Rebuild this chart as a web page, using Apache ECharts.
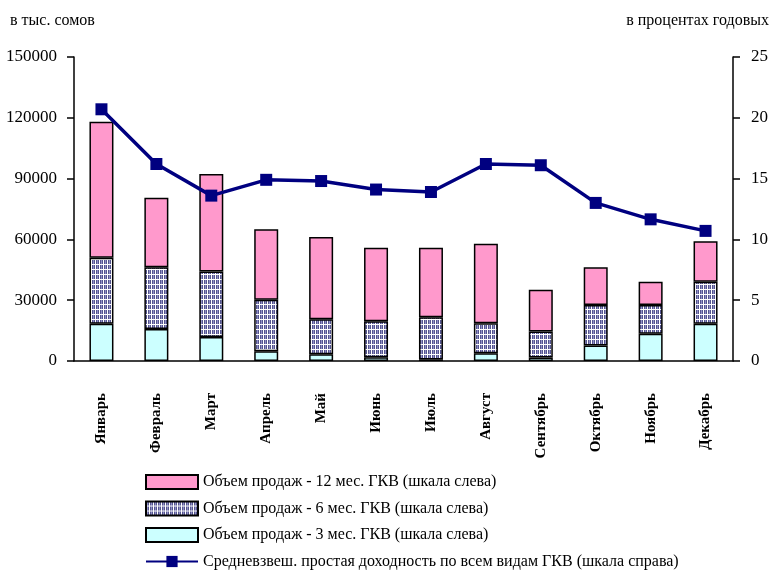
<!DOCTYPE html>
<html>
<head>
<meta charset="utf-8">
<script src="https://cdn.jsdelivr.net/npm/echarts@6/dist/echarts.min.js"></script>
<style>
  html, body { margin: 0; padding: 0; background: #fff; }
  #chart { width: 771px; height: 571px; }
</style>
</head>
<body>
<div id="chart"></div>
<script>
// месяцы
const months = ['Январь', 'Февраль', 'Март', 'Апрель', 'Май', 'Июнь', 'Июль', 'Август', 'Сентябрь', 'Октябрь', 'Ноябрь', 'Декабрь']
// объем продаж, тыс. сомов
const sales3 = [18400, 15800, 11800, 4800, 3300, 1800, 800, 3800, 1700, 7700, 13500, 18400]
const sales6 = [32600, 30400, 32400, 25400, 17300, 17800, 20800, 14800, 12900, 19900, 14100, 20700]
const sales12 = [67000, 34300, 48100, 34800, 40600, 36300, 34300, 39300, 20500, 18600, 11500, 20000]
// доходность, % годовых
const yieldAvg = [20.7, 16.2, 13.6, 14.9, 14.8, 14.1, 13.9, 16.2, 16.1, 13.0, 11.65, 10.7]

const names = [
    'Объем продаж - 12 мес. ГКВ (шкала слева)',
    'Объем продаж - 6 мес. ГКВ (шкала слева)',
    'Объем продаж - 3 мес. ГКВ (шкала слева)',
    'Средневзвеш. простая доходность по всем видам ГКВ (шкала справа)'
]

const font = 'Liberation Serif'

// штриховка для 6 мес.
const pat = document.createElement('canvas')
pat.width = 4
pat.height = 5
const ctx = pat.getContext('2d')
ctx.fillStyle = '#ffffff'
ctx.fillRect(0, 0, 4, 5)
ctx.fillStyle = '#55558f'
ctx.fillRect(0, 0, 1, 4)
ctx.fillRect(2, 0, 1, 4)
ctx.fillStyle = '#9090c4'
ctx.fillRect(1, 0, 1, 4)

const chart = echarts.init(document.getElementById('chart'))

const barBorder = { borderColor: '#000', borderWidth: 1.5 }
const plain = v => String(v)

chart.setOption({
    animation: false,
    backgroundColor: '#fff',
    textStyle: { fontFamily: font },
    graphic: [
        {
            type: 'text', left: 10, top: 13,
            style: { text: 'в тыс. сомов', font: '16px ' + font, fill: '#000' }
        },
        {
            type: 'text', right: 2, top: 13,
            style: { text: 'в процентах годовых', font: '16px ' + font, fill: '#000' }
        }
    ],
    grid: { left: 74, right: 35, top: 57, bottom: 210 },
    legend: {
        orient: 'vertical',
        left: 145,
        top: 474,
        padding: 0,
        itemWidth: 52,
        itemHeight: 14,
        itemGap: 10.5,
        data: [
            { name: names[0], icon: 'rect' },
            { name: names[1], icon: 'rect' },
            { name: names[2], icon: 'rect' },
            { name: names[3] }
        ],
        textStyle: { fontFamily: font, fontSize: 16, color: '#000' }
    },
    xAxis: {
        type: 'category',
        data: months,
        axisLine: { lineStyle: { color: '#000', width: 1.5 } },
        axisTick: { lineStyle: { color: '#000', width: 1.5 }, length: 6 },
        axisLabel: {
            rotate: 90,
            margin: 32,
            color: '#000',
            fontFamily: font,
            fontWeight: 'bold',
            fontSize: 15
        }
    },
    yAxis: [
        {
            type: 'value',
            min: 0, max: 150000, interval: 30000,
            splitLine: { show: false },
            axisLine: { show: true, lineStyle: { color: '#000', width: 1.5 } },
            axisTick: { show: true, length: 7, lineStyle: { color: '#000', width: 1.5 } },
            axisLabel: { color: '#000', fontFamily: font, fontSize: 17, margin: 17, formatter: plain }
        },
        {
            type: 'value',
            min: 0, max: 25, interval: 5,
            splitLine: { show: false },
            axisLine: { show: true, lineStyle: { color: '#000', width: 1.5 } },
            axisTick: { show: true, length: 7, lineStyle: { color: '#000', width: 1.5 } },
            axisLabel: { color: '#000', fontFamily: font, fontSize: 17, margin: 18, formatter: plain }
        }
    ],
    series: [
        {
            name: names[2], type: 'bar', stack: 'sales', barWidth: 24,
            data: sales3,
            itemStyle: Object.assign({ color: '#ccffff' }, barBorder)
        },
        {
            name: names[1], type: 'bar', stack: 'sales', barWidth: 24,
            data: sales6,
            itemStyle: Object.assign({ color: { image: pat, repeat: 'repeat' } }, barBorder)
        },
        {
            name: names[0], type: 'bar', stack: 'sales', barWidth: 24,
            data: sales12,
            itemStyle: Object.assign({ color: '#ff99cc' }, barBorder)
        },
        {
            name: names[3], type: 'line', yAxisIndex: 1,
            data: yieldAvg,
            symbol: 'rect', symbolSize: 12,
            lineStyle: { color: '#000080', width: 3.5 },
            itemStyle: { color: '#000080' }
        }
    ]
})
</script>
</body>
</html>
